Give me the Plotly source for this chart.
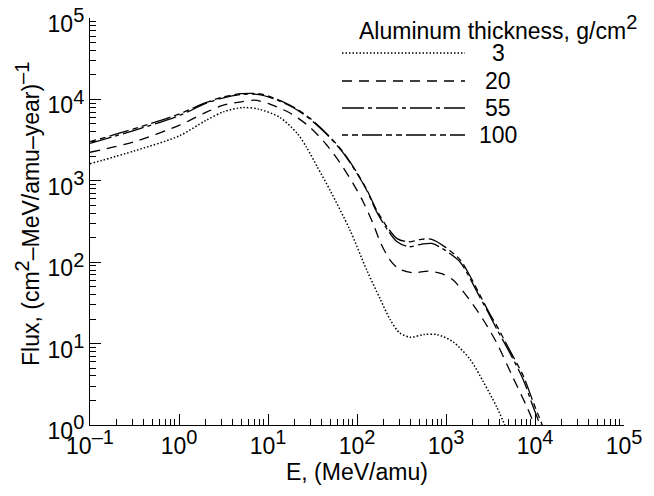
import plotly.graph_objects as go

# ---------------- data ----------------
thickness = [3, 20, 55, 100]

E_3 = [0.1, 0.32, 1.0, 2.0, 3.2, 5.2, 7.9, 13.5, 21.4, 27.5, 35.5, 50, 83, 129, 182, 234,
       302, 398, 562, 794, 1202, 1862, 2630, 3715, 5248]
F_3 = [1620, 2340, 3550, 5500, 7080, 7940, 7590, 6030, 3800, 2510, 1510, 759, 251, 79.4, 35.5,
       20.0, 13.5, 12.0, 12.9, 12.9, 10.5, 6.4, 3.39, 1.66, 0.71]

E_20 = [0.1, 0.316, 1, 2, 3.16, 5.01, 7.08, 10, 17.8, 29.5, 45.7, 64.6, 91.2, 117.5, 151, 182,
        234, 295, 427, 631, 891, 1202, 1862, 2630, 3715, 5623, 8128, 11220]
F_20 = [2240, 3020, 4790, 6920, 8510, 9330, 9770, 8910, 6760, 4570, 2750, 1660, 912, 550, 302,
        178, 107, 83.2, 74.1, 77.6, 72.4, 60.3, 33.9, 19.5, 10.2, 3.89, 1.66, 0.71]

E_55 = [0.1, 0.316, 1, 2, 3.16, 5.01, 7.94, 11.5, 19.1, 29.5, 45.7, 69.2, 100, 129, 166, 219,
        282, 380, 525, 692, 1000, 1445, 1862, 2399, 3090, 3715, 5248, 7413, 9550, 12590]
F_55 = [2880, 4170, 6310, 8910, 10470, 11480, 11480, 10230, 7940, 5750, 3720, 2240, 1230, 759,
        417, 251, 178, 155, 166, 170, 138, 100, 63.1, 37.2, 22.4, 15.1, 7.59, 3.55, 1.66, 0.76]

E_100 = E_55
F_100 = [3020, 4370, 6610, 9120, 10720, 11750, 11750, 10470, 8130, 5890, 3800, 2290, 1260, 776,
         437, 269, 195, 178, 191, 191, 151, 107, 67.6, 39.8, 23.4, 16.6, 8.13, 3.98, 1.91, 0.89]

x_tick_exponents = [-1, 0, 1, 2, 3, 4, 5]
y_tick_exponents = [0, 1, 2, 3, 4, 5]

# ---------------- styling ----------------
FONT = "Liberation Sans, Arial, Helvetica, sans-serif"
FS = 23
SUP = 20
dash_styles = ["1.5px,2px", "10px,7px", "22px,4px,4px,4px", "6px,4px,6px,4px,20px,4px"]
widths = [1.5, 1.3, 1.3, 1.3]

series = [(E_3, F_3), (E_20, F_20), (E_55, F_55), (E_100, F_100)]

fig = go.Figure()
for (ex, fy), dsh, w, t in zip(series, dash_styles, widths, thickness):
    fig.add_trace(go.Scatter(x=ex, y=fy, mode="lines", name=str(t),
                             line=dict(color="black", width=w, dash=dsh,
                                       shape="spline", smoothing=0.8),
                             showlegend=False))

# page geometry (the page body adds an 8px offset)
OFF = 8
PAGE_W, PAGE_H = 654, 496
PL, PR, PT, PB = 90, 624, 18, 425   # plot area in page pixels
W, H = PAGE_W - OFF, PAGE_H - OFF


def pxx(px):
    return (px - PL) / (PR - PL)


def pxy(py):
    return (PB - py) / (PB - PT)


def sup(s):
    return "<sup><span style='font-size:%dpx'>%s</span></sup>" % (SUP, s)


def sup_label(e):
    return "10" + sup(str(e).replace("-", "\u2013"))


minor_x = [m * 10.0 ** k for k in range(-1, 5) for m in range(2, 10)]
minor_y = [m * 10.0 ** k for k in range(0, 5) for m in range(2, 10)]

axis_common = dict(type="log", showline=True, linecolor="black", linewidth=1.3,
                   ticks="inside", tickcolor="black", tickwidth=1.2, ticklen=11,
                   showgrid=False, zeroline=False, mirror=False, automargin=False,
                   ticklabeloverflow="allow",
                   tickfont=dict(family=FONT, size=FS, color="black"),
                   tickmode="array")

fig.update_xaxes(**axis_common, range=[-1, 5],
                 tickvals=[10.0 ** e for e in x_tick_exponents],
                 ticktext=[sup_label(e) for e in x_tick_exponents],
                 minor=dict(tickmode="array", tickvals=minor_x, ticks="inside",
                            ticklen=6, tickwidth=1, tickcolor="black", showgrid=False))
fig.update_yaxes(**axis_common, range=[0, 5], ticklabelshift=6,
                 tickvals=[10.0 ** e for e in y_tick_exponents],
                 ticktext=[sup_label(e) for e in y_tick_exponents],
                 minor=dict(tickmode="array", tickvals=minor_y, ticks="inside",
                            ticklen=6, tickwidth=1, tickcolor="black", showgrid=False))

annotations = [
    dict(text="E, (MeV/amu)", x=0.5, y=pxy(472), xref="paper", yref="paper",
         xanchor="center", yanchor="middle", showarrow=False,
         font=dict(family=FONT, size=FS, color="black")),
    dict(text="Flux, (cm" + sup("2") + "\u2013MeV/amu\u2013year)" + sup("\u20131"),
         x=pxx(27), y=pxy(214), xref="paper", yref="paper", textangle=-90,
         xanchor="center", yanchor="middle", showarrow=False,
         font=dict(family=FONT, size=FS, color="black")),
    dict(text="Aluminum thickness, g/cm" + sup("2"), x=pxx(498), y=pxy(28),
         xref="paper", yref="paper", xanchor="center", yanchor="middle",
         showarrow=False, font=dict(family=FONT, size=FS, color="black")),
]

legend_rows = [53, 81, 108, 135]
shapes = []
for t, dsh, w, py in zip(thickness, dash_styles, widths, legend_rows):
    shapes.append(dict(type="line", xref="paper", yref="paper",
                       x0=pxx(342), x1=pxx(465), y0=pxy(py), y1=pxy(py),
                       line=dict(color="black", width=w, dash=dsh)))
    annotations.append(dict(text=str(t), x=pxx(498), y=pxy(py), xref="paper", yref="paper",
                            xanchor="center", yanchor="middle", showarrow=False,
                            font=dict(family=FONT, size=FS, color="black")))

fig.update_layout(template="none", width=W, height=H,
                  margin=dict(l=PL - OFF, r=PAGE_W - PR, t=PT - OFF, b=PAGE_H - PB, pad=0),
                  paper_bgcolor="white", plot_bgcolor="white",
                  annotations=annotations, shapes=shapes,
                  font=dict(family=FONT, size=FS, color="black"))

fig.write_html("out.html")
